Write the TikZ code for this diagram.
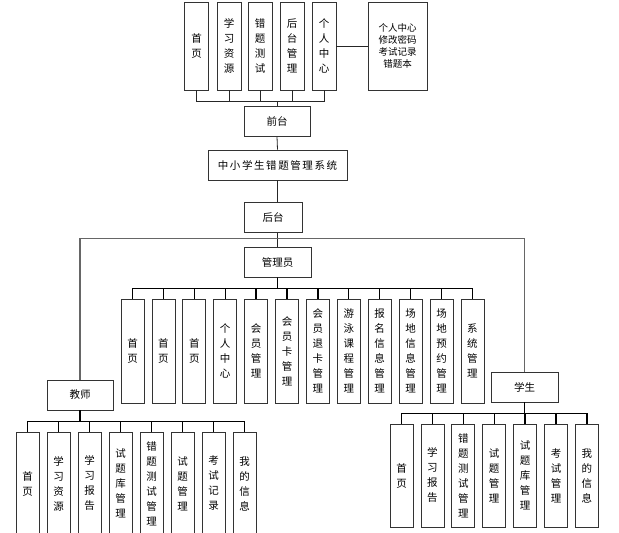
\documentclass[tikz,border=0pt]{standalone}
\usepackage{fontspec}
\setmainfont{Noto Sans CJK SC}
\newfontfamily\titlefont[LetterSpace=15]{Noto Sans CJK SC}
\begin{document}
\begin{tikzpicture}[x=1pt,y=-1pt,
  box/.style={draw=black!80,line width=0.8pt,inner sep=0pt,align=center,
    font=\fontsize{10.5}{15}\selectfont},
  vbox/.style={box,minimum width=23pt},
  hbox/.style={box,minimum height=29.5pt},
  conn/.style={draw=black!85,line width=0.8pt},
  bus/.style={draw=black,line width=1.3pt},
  wide/.style={draw=black!60,line width=1.2pt}]
\useasboundingbox (0,0) rectangle (619,533);
\fill[white] (0,0) rectangle (619,533);
% top row
\foreach \n/\x/\t in {t1/196.5/首\\页, t2/229/学\\习\\资\\源, t3/260/错\\题\\测\\试, t4/292/后\\台\\管\\理, t5/324/个\\人\\中\\心}
  \node[vbox,minimum height=88pt,minimum width=24pt] (\n) at (\x,46) {\t};
\node[box,minimum width=59pt,minimum height=88pt,font=\fontsize{9.5}{12}\selectfont] (side) at (397.5,46) {个人中心\\修改密码\\考试记录\\错题本};
\node[hbox,minimum width=66pt] (qt) at (277,121.5) {前台};
\node[box,minimum width=139pt,minimum height=30pt,font=\titlefont\fontsize{10.5}{15}\selectfont] (main) at (277.5,165) {中小学生错题管理系统};
\node[hbox,minimum width=58pt] (ht) at (273,217.5) {后台};
\node[hbox,minimum width=67pt] (adm) at (277.5,262.5) {管理员};
\node[hbox,minimum width=66pt,minimum height=30pt] (tea) at (80,395) {教师};
\node[hbox,minimum width=67pt,minimum height=30pt] (stu) at (524.5,387) {学生};
% top connectors
\foreach \n in {t1,t2,t3,t4,t5}
  \draw[conn] (\n.south) -- ++(0,11) -| (qt.north);
\draw[conn] (t5.east) -- (side.west);
\draw[conn] (qt.south) -- (main.north);
\draw[conn] (main.south) -- (main.south |- ht.north);
\draw[conn] (main.south |- ht.south) -- (adm.north);
\draw[wide] (main.south |- ht.south) ++(0,6) -| (tea.north);
\draw[wide] (main.south |- ht.south) ++(0,6) -| (stu.north);
% admin
\foreach \i/\t in {0/首\\页, 1/首\\页, 2/首\\页, 3/个\\人\\中\\心, 4/会\\员\\管\\理, 5/会\\员\\卡\\管\\理, 6/会\\员\\退\\卡\\管\\理, 7/游\\泳\\课\\程\\管\\理, 8/报\\名\\信\\息\\管\\理, 9/场\\地\\信\\息\\管\\理, 10/场\\地\\预\\约\\管\\理, 11/系\\统\\管\\理}{
  \node[vbox,minimum height=104pt] (a\i) at ({132.5+30.9*\i},351) {\t};
  \draw[bus] (adm.south) -- ++(0,11) -| (a\i.north);
}
% teacher
\foreach \i/\t in {0/首\\页, 1/学\\习\\资\\源, 2/学\\习\\报\\告, 3/试\\题\\库\\管\\理, 4/错\\题\\测\\试\\管\\理, 5/试\\题\\管\\理, 6/考\\试\\记\\录, 7/我\\的\\信\\息}{
  \node[vbox,minimum height=103pt] (e\i) at ({27.5+31*\i},483.5) {\t};
  \draw[bus] (tea.south) -- ++(0,11) -| (e\i.north);
}
% student
\foreach \i/\t in {0/首\\页, 1/学\\习\\报\\告, 2/错\\题\\测\\试\\管\\理, 3/试\\题\\管\\理, 4/试\\题\\库\\管\\理, 5/考\\试\\管\\理, 6/我\\的\\信\\息}{
  \node[vbox,minimum height=103pt] (s\i) at ({401.5+30.9*\i},475.5) {\t};
  \draw[bus] (stu.south) -- ++(0,11) -| (s\i.north);
}
\end{tikzpicture}
\end{document}
